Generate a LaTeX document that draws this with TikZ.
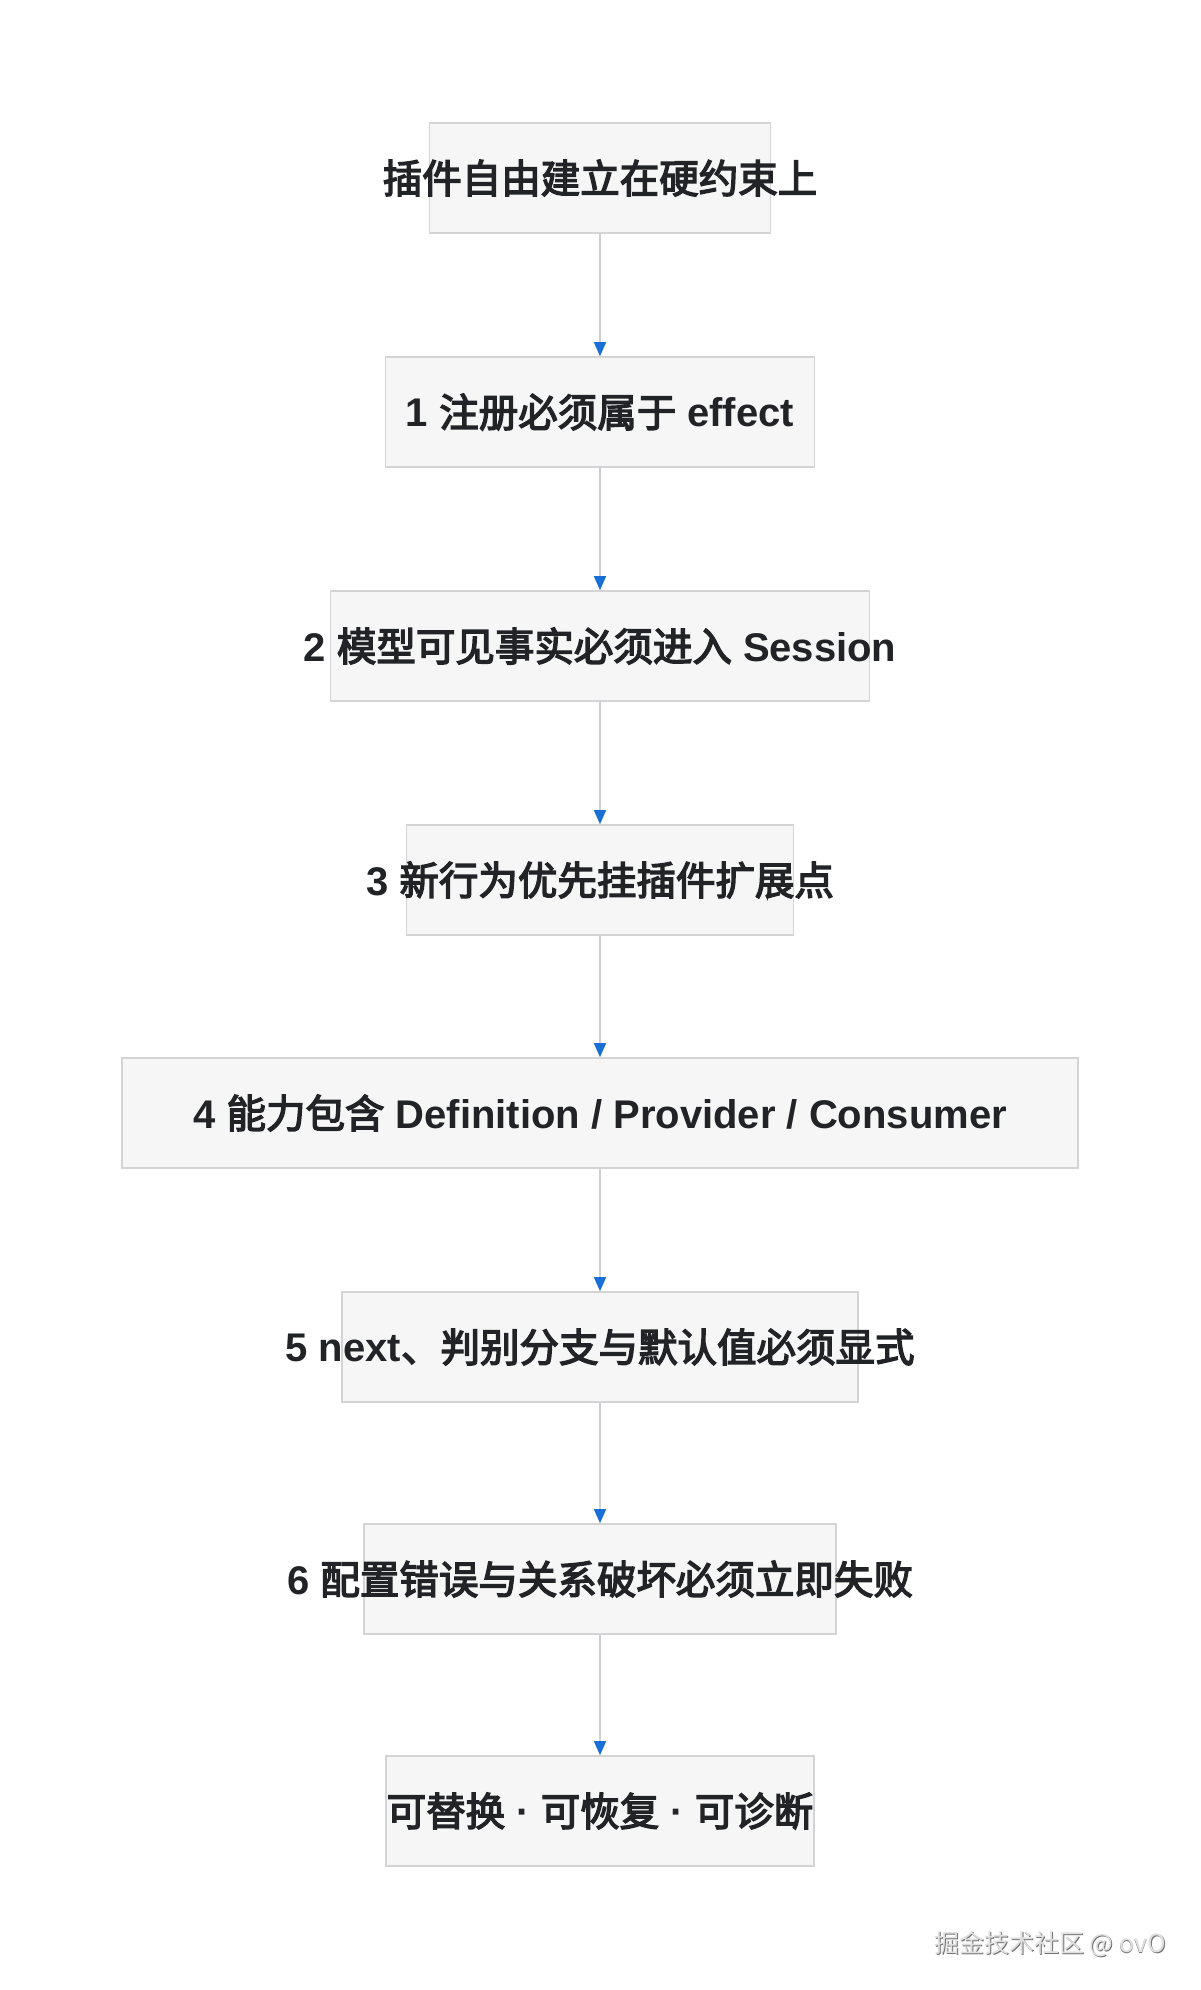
\documentclass[tikz,border=0pt]{standalone}
\usepackage{fontspec}
\setmainfont[FakeBold=3.5]{Noto Sans CJK SC}
\newfontfamily\latfont{Liberation Sans}
\newcommand{\lt}[1]{{\latfont\bfseries\fontsize{40pt}{44pt}\selectfont #1}}
\newfontfamily\wmfont{Noto Sans CJK SC}
\usetikzlibrary{arrows.meta}
\definecolor{boxfill}{HTML}{F6F6F7}
\definecolor{boxline}{HTML}{D4D4D6}
\definecolor{txtcol}{HTML}{222326}
\definecolor{edgecol}{HTML}{CCCED2}
\definecolor{tipcol}{HTML}{1A6FD6}
\tikzset{
  box/.style={draw=boxline, line width=1.6pt, fill=boxfill, minimum height=110pt, inner sep=0pt},
  txt/.style={text=txtcol, font=\fontsize{39.5pt}{44pt}\selectfont, inner sep=0pt},
  edge/.style={draw=edgecol, line width=1.4pt, -{Triangle[length=14pt,width=12pt,color=tipcol]}}
}
\begin{document}
\begin{tikzpicture}
\useasboundingbox (0pt,0pt) rectangle (1200pt,-1990pt);
\fill[white] (0pt,0pt) rectangle (1200pt,-1990pt);
\node[box, minimum width=341pt] (b0) at (600pt,-178pt) {};
\node[box, minimum width=429pt] (b1) at (600pt,-412pt) {};
\node[box, minimum width=539pt] (b2) at (600pt,-646pt) {};
\node[box, minimum width=387pt] (b3) at (600pt,-880pt) {};
\node[box, minimum width=956pt] (b4) at (600pt,-1113pt) {};
\node[box, minimum width=516pt] (b5) at (600pt,-1347pt) {};
\node[box, minimum width=472pt] (b6) at (600pt,-1579pt) {};
\node[box, minimum width=428pt] (b7) at (600pt,-1811pt) {};
\node[txt] (t0) at (b0) {插件自由建立在硬约束上};
\node[txt] (t1) at (b1) {\lt{1 }注册必须属于\lt{ effect}};
\node[txt] (t2) at (b2) {\lt{2 }模型可见事实必须进入\lt{ Session}};
\node[txt] (t3) at (b3) {\lt{3 }新行为优先挂插件扩展点};
\node[txt] (t4) at (b4) {\lt{4 }能力包含\lt{ Definition / Provider / Consumer}};
\node[txt] (t5) at (b5) {\lt{5 next}、判别分支与默认值必须显式};
\node[txt] (t6) at (b6) {\lt{6 }配置错误与关系破坏必须立即失败};
\node[txt] (t7) at (b7) {可替换\lt{ · }可恢复\lt{ · }可诊断};
\draw[edge] (b0.south) -- (b1.north);
\draw[edge] (b1.south) -- (b2.north);
\draw[edge] (b2.south) -- (b3.north);
\draw[edge] (b3.south) -- (b4.north);
\draw[edge] (b4.south) -- (b5.north);
\draw[edge] (b5.south) -- (b6.north);
\draw[edge] (b6.south) -- (b7.north);
\node[text=black!55, font=\wmfont\fontsize{25pt}{28pt}\selectfont, inner sep=0pt] (wms) at (1050.8pt,-1944.8pt) {掘金技术社区 @ ovO};
\node[text=black!12, font=\wmfont\fontsize{25pt}{28pt}\selectfont, inner sep=0pt] (wm) at (1050pt,-1944pt) {掘金技术社区 @ ovO};
\end{tikzpicture}
\end{document}
